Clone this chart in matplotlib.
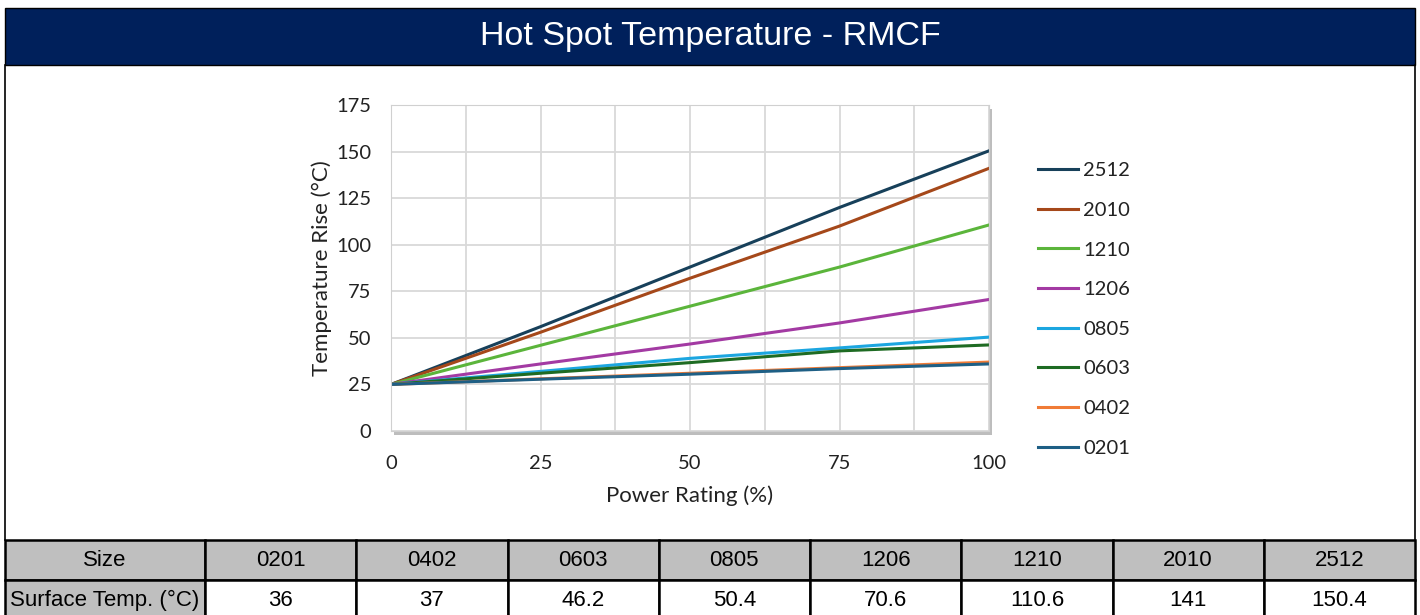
import numpy as np
import matplotlib.pyplot as plt
from matplotlib.patches import Rectangle

# data
power = [0, 25, 50, 75, 100]
sizes = ["2512", "2010", "1210", "1206", "0805", "0603", "0402", "0201"]
rise = {
    "2512": [25, 56, 88, 120, 150.4],
    "2010": [25, 53, 82, 110, 141],
    "1210": [25, 46, 67, 88, 110.6],
    "1206": [25, 36, 46.7, 58, 70.6],
    "0805": [25, 32, 39, 44.6, 50.4],
    "0603": [25, 31, 36.7, 43, 46.2],
    "0402": [25, 28, 31, 34, 37],
    "0201": [25, 27.8, 30.5, 33.5, 36],
}
colors = {
    "2512": "#17405A", "2010": "#A5481A", "1210": "#5BB53B", "1206": "#A33AA3",
    "0805": "#1CA6E0", "0603": "#1E6B23", "0402": "#F07B36", "0201": "#1E5F85",
}
table_sizes = ["0201", "0402", "0603", "0805", "1206", "1210", "2010", "2512"]
surface_temp = ["36", "37", "46.2", "50.4", "70.6", "110.6", "141", "150.4"]

W, H = 1420, 615
fig = plt.figure(figsize=(W / 100, H / 100), dpi=100)

def fx(px): return px / W
def fy(py): return 1 - py / H

# title bar
fig.patches.append(Rectangle((fx(5), fy(65)), fx(1410), 57 / H, transform=fig.transFigure,
                             facecolor="#00205B", edgecolor="black", lw=1, zorder=-2))
fig.text(fx(710), fy(37), "Hot Spot Temperature - RMCF", color="white", fontsize=24.5,
         family="Liberation Sans", ha="center", va="center")
# outer border lines
fig.add_artist(plt.Line2D([fx(5), fx(5)], [fy(65), fy(540)], color="black", lw=1.2))
fig.add_artist(plt.Line2D([fx(1415), fx(1415)], [fy(65), fy(540)], color="black", lw=1.2))

# plot area + shadow
l, r, t, b = 391, 989, 105, 431
fig.patches.append(Rectangle((fx(l + 3), fy(b + 4)), fx(r - l), (b - t) / H,
                             transform=fig.transFigure, facecolor="#BDBDBD",
                             edgecolor="none", zorder=-1))
ax = fig.add_axes([fx(l), fy(b), fx(r - l), (b - t) / H])
ax.set_facecolor("white")

for s in sizes:
    ax.plot(power, rise[s], color=colors[s], lw=2.2, label=s)

font = "Lato"
ink = "#222222"
ax.set_xlim(0, 100)
ax.set_ylim(0, 175)
ax.set_xticks([0, 25, 50, 75, 100])
ax.set_xticks(np.arange(0, 101, 12.5), minor=True)
ax.set_yticks(np.arange(0, 176, 25))
ax.grid(True, which="both", color="#D9D9D9", lw=1.3)
ax.set_axisbelow(True)
ax.tick_params(which="both", length=0, labelsize=14.5, colors=ink)
ax.tick_params(axis="x", pad=17)
ax.tick_params(axis="y", pad=14)
for lab in ax.get_xticklabels() + ax.get_yticklabels():
    lab.set_family(font)
for sp in ax.spines.values():
    sp.set_color("#D0D0D0")
ax.set_xlabel("Power Rating (%)", fontsize=16, family=font, color=ink, labelpad=10)
ax.set_ylabel("Temperature Rise (°C)", fontsize=16, family=font, color=ink, labelpad=3)

leg = ax.legend(loc="upper left", bbox_to_anchor=(fx(1020), fy(144)),
                bbox_transform=fig.transFigure, frameon=False,
                prop={"family": font, "size": 14.5}, handlelength=2.0,
                handletextpad=0.25, labelspacing=1.12)
for txt in leg.get_texts():
    txt.set_color(ink)

# table
tax = fig.add_axes([0, 0, 1, 1])
tax.set_xlim(0, W)
tax.set_ylim(H, 0)
tax.axis("off")
col_w = [200] + [151.25] * 8
rows = [["Size"] + table_sizes, ["Surface Temp. (°C)"] + surface_temp]
row_y = [540, 580]
row_h = [40, 40]
for ri, row in enumerate(rows):
    x0 = 5
    for ci, val in enumerate(row):
        gray = ri == 0 or ci == 0
        tax.add_patch(Rectangle((x0, row_y[ri]), col_w[ci], row_h[ri],
                                facecolor="#BFBFBF" if gray else "white",
                                edgecolor="black", lw=1.8))
        tax.text(x0 + col_w[ci] / 2, row_y[ri] + 20, val, ha="center", va="center",
                 fontsize=16, family="Liberation Sans", color="black")
        x0 += col_w[ci]

fig.savefig("out.png", dpi=100)
